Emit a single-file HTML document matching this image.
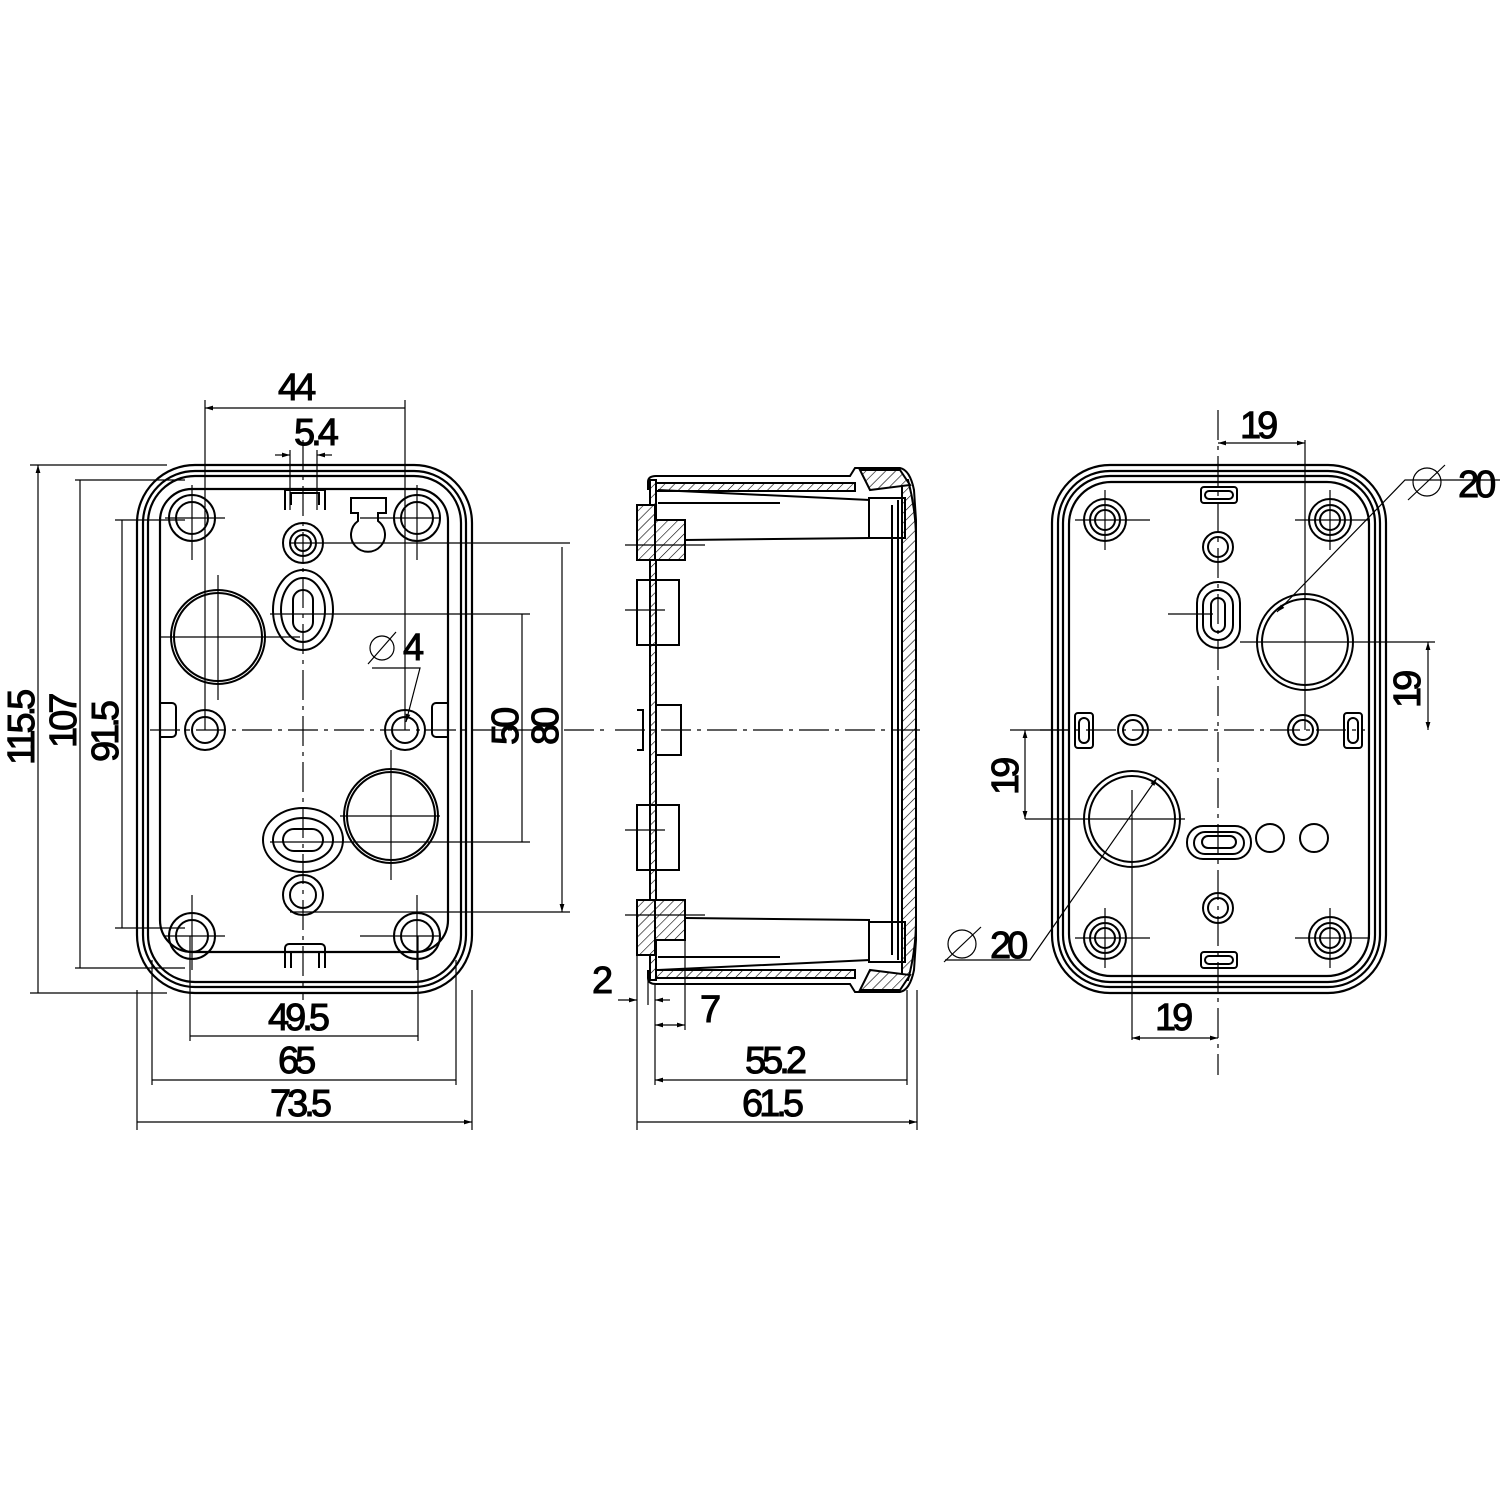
<!DOCTYPE html>
<html><head><style>
html,body{margin:0;padding:0;background:#fff}
svg{display:block}
text{font-family:"Liberation Sans",sans-serif;font-size:38px;fill:#000;letter-spacing:-4px}
</style></head><body>
<svg width="1500" height="1500" viewBox="0 0 1500 1500" xmlns="http://www.w3.org/2000/svg">
<defs>
<marker id="a" viewBox="0 0 10 10" refX="10" refY="5" markerWidth="14" markerHeight="8" orient="auto-start-reverse" markerUnits="userSpaceOnUse"><path d="M0,2 L10,5 L0,8 z" fill="#000"/></marker>
<pattern id="h" width="7" height="7" patternUnits="userSpaceOnUse" patternTransform="rotate(45)"><rect width="7" height="7" fill="#fff"/><line x1="0" y1="0" x2="0" y2="7" stroke="#000" stroke-width="1.2"/></pattern>
<g id="s" fill="none" stroke="#000" stroke-width="2"><circle r="21"/><circle r="15"/><circle r="10"/></g>
</defs>
<g fill="none" stroke="#000">
<!-- ===== LEFT VIEW ===== -->
<g stroke-width="2.2">
<rect x="137" y="465" width="335" height="528" rx="58"/>
<rect x="143" y="471" width="323" height="516" rx="52"/>
<rect x="148" y="476" width="313" height="506" rx="47"/>
<rect x="160" y="489" width="288" height="463" rx="32"/>
</g>
<g stroke-width="2">
<circle cx="192" cy="518" r="23"/><circle cx="192" cy="518" r="16"/>
<circle cx="417" cy="518" r="23"/><circle cx="417" cy="518" r="16"/>
<circle cx="192" cy="936" r="23"/><circle cx="192" cy="936" r="16"/>
<circle cx="417" cy="936" r="23"/><circle cx="417" cy="936" r="16"/>
<circle cx="303" cy="543" r="20"/><circle cx="303" cy="543" r="13"/><circle cx="303" cy="543" r="8"/>
<circle cx="303" cy="895" r="20"/><circle cx="303" cy="895" r="13"/>
<circle cx="205" cy="730" r="20"/><circle cx="205" cy="730" r="13"/>
<circle cx="405" cy="730" r="20"/><circle cx="405" cy="730" r="13"/>
<circle cx="218" cy="637" r="47"/><circle cx="218" cy="637" r="44"/>
<circle cx="391" cy="816" r="47"/><circle cx="391" cy="816" r="44"/>
<ellipse cx="303" cy="610" rx="30" ry="40"/><ellipse cx="303" cy="610" rx="22" ry="32"/><rect x="293" y="590" width="20" height="42" rx="10"/>
<ellipse cx="303" cy="840" rx="40" ry="32"/><ellipse cx="303" cy="840" rx="30" ry="22"/><rect x="283" y="829" width="40" height="22" rx="11"/>
<path d="M160 703 h12 a4 4 0 0 1 4 4 v26 a4 4 0 0 1 -4 4 h-12"/>
<path d="M448 703 h-12 a4 4 0 0 0 -4 4 v26 a4 4 0 0 0 4 4 h12"/>
<path d="M285 510 v-20 h40 v20 M291 505 v-12 h28 v12"/>
<path d="M285 968 v-20 a4 4 0 0 1 4 -4 h32 a4 4 0 0 1 4 4 v20 M291 968 v-16 h28 v16"/>
<path d="M351 498 h35 v15 h-8 v8 a17 17 0 1 1 -20 0 v-8 h-7 z"/>
</g>
<g stroke-width="1.2">
<path d="M150 730 h460" stroke-dasharray="30 6 4 6"/>
<path d="M303 440 v560" stroke-dasharray="30 6 4 6"/>
<path d="M165 518 h60 M360 518 h80 M192 485 v75 M417 485 v75"/>
<path d="M165 936 h60 M360 936 h80 M192 895 v75 M417 895 v75"/>
<path d="M160 637 h140 M218 575 v125 M340 816 h100 M391 750 v130"/>
<path d="M290 543 h280 M290 912 h280 M270 614 h260 M270 842 h260"/>
<path d="M205 400 v330 M405 400 v330 M290 450 v60 M317 450 v60"/>
<path d="M30 465 h137 M75 480 h110 M115 520 h70 M115 928 h70 M75 968 h110 M30 993 h137"/>
<path d="M190 936 v105 M418 936 v105 M152 960 v125 M456 960 v125 M137 990 v140 M472 990 v140"/>
<path d="M38 465 v528 M80 480 v488 M122 520 v408 M522 614 v228 M562 547 v365" marker-start="url(#a)" marker-end="url(#a)"/>
<path d="M205 408 h200 M190 1036 h228 M152 1080 h304 M137 1122 h335" marker-start="url(#a)" marker-end="url(#a)"/>
<path d="M275 455 h15" marker-end="url(#a)"/><path d="M332 455 h-15" marker-end="url(#a)"/>
<path d="M372 668 h48 L406 722" marker-end="url(#a)"/>
<circle cx="382" cy="648" r="12"/><path d="M368 664 L396 632"/>
</g>
<text x="278" y="400">44</text>
<text x="294" y="445">5.4</text>
<text x="403" y="660">4</text>
<text x="268" y="1030">49.5</text>
<text x="278" y="1073">65</text>
<text x="270" y="1116">73.5</text>
<text transform="translate(34 765) rotate(-90)">115.5</text>
<text transform="translate(76 748) rotate(-90)">107</text>
<text transform="translate(118 762) rotate(-90)">91.5</text>
<text transform="translate(518 745) rotate(-90)">50</text>
<text transform="translate(558 745) rotate(-90)">80</text>

<!-- ===== MIDDLE VIEW ===== -->
<g stroke-width="2">
<path d="M648 490 L648 482 Q648 476 656 476 L850 476 L855 468 L900 468 Q910 470 914 490 L916 520 L916 940 L914 970 Q910 990 900 992 L855 992 L850 984 L656 984 Q648 984 648 978 L648 970" />
<path d="M650 483 h205 v8 h-205 z" fill="url(#h)"/>
<path d="M650 970 h205 v8 h-205 z" fill="url(#h)"/>
<path d="M650 480 h6 v500 h-6 z" fill="url(#h)"/>
<path d="M908 480 q8 30 8 60 v380 q0 30 -8 60 h-6 v-500 z" fill="url(#h)"/>
<path d="M898 500 v460 M892 505 v450"/>
<path d="M860 470 l40 0 l10 15 l-40 5 z" fill="url(#h)"/>
<path d="M860 990 l40 0 l10 -15 l-40 -5 z" fill="url(#h)"/>
<path d="M658 490 L870 500 M658 503 L780 503 M685 540 L870 538 M685 918 L870 920 M658 957 L780 957 M658 970 L870 960"/>
<path d="M869 498 h36 v40 h-36 z M869 922 h36 v40 h-36 z"/>
<path d="M637 505 h18 v55 h-18 z" fill="url(#h)"/><path d="M655 520 h30 v40 h-30 z" fill="url(#h)"/>
<path d="M637 900 h18 v55 h-18 z" fill="url(#h)"/><path d="M655 900 h30 v40 h-30 z" fill="url(#h)"/>
<path d="M637 580 h42 v65 h-42 z M637 805 h42 v65 h-42 z"/>
<path d="M656 705 h25 v50 h-25 z M637 710 h6 v40 h-6"/>
</g>
<g stroke-width="1.2">
<path d="M615 730 h305" stroke-dasharray="30 6 4 6"/>
<path d="M625 545 h80 M625 610 h40 M625 830 h40 M625 915 h80"/>
<path d="M637 940 v190 M648 980 v25 M655 985 v100 M685 940 v90 M907 990 v95 M917 990 v140"/>
<path d="M618 1000 h19" marker-end="url(#a)"/><path d="M670 1000 h-15" marker-end="url(#a)"/>
<path d="M655 1025 h30" marker-start="url(#a)" marker-end="url(#a)"/>
<path d="M655 1080 h252 M637 1122 h280" marker-start="url(#a)" marker-end="url(#a)"/>
</g>
<text x="592" y="993">2</text>
<text x="700" y="1022">7</text>
<text x="745" y="1073">55.2</text>
<text x="742" y="1116">61.5</text>

<!-- ===== RIGHT VIEW ===== -->
<g stroke-width="2.2">
<rect x="1052" y="465" width="334" height="528" rx="58"/>
<rect x="1058" y="471" width="322" height="516" rx="52"/>
<rect x="1063" y="476" width="312" height="506" rx="47"/>
<rect x="1069" y="482" width="300" height="494" rx="42"/>
</g>
<g stroke-width="2">
<use href="#s" x="1105" y="520"/><use href="#s" x="1330" y="520"/><use href="#s" x="1105" y="938"/><use href="#s" x="1330" y="938"/>
<circle cx="1218" cy="547" r="15"/><circle cx="1218" cy="547" r="10"/>
<circle cx="1218" cy="908" r="15"/><circle cx="1218" cy="908" r="10"/>
<circle cx="1133" cy="730" r="15"/><circle cx="1133" cy="730" r="10"/>
<circle cx="1303" cy="730" r="15"/><circle cx="1303" cy="730" r="10"/>
<circle cx="1305" cy="642" r="48"/><circle cx="1305" cy="642" r="43"/>
<circle cx="1132" cy="819" r="48"/><circle cx="1132" cy="819" r="43"/>
<rect x="1197" y="582" width="43" height="66" rx="21"/><rect x="1203" y="590" width="30" height="50" rx="15"/><rect x="1211" y="598" width="14" height="34" rx="7"/>
<rect x="1187" y="826" width="64" height="33" rx="16"/><rect x="1194" y="832" width="50" height="22" rx="11"/><rect x="1202" y="836" width="34" height="12" rx="6"/>
<circle cx="1270" cy="838" r="14"/><circle cx="1314" cy="838" r="14"/>
<rect x="1201" y="487" width="36" height="16" rx="3"/><rect x="1205" y="491" width="28" height="8" rx="4"/>
<rect x="1201" y="952" width="36" height="16" rx="3"/><rect x="1205" y="956" width="28" height="8" rx="4"/>
<rect x="1075" y="713" width="18" height="35" rx="3"/><rect x="1079" y="718" width="10" height="25" rx="5"/>
<rect x="1344" y="713" width="18" height="35" rx="3"/><rect x="1348" y="718" width="10" height="25" rx="5"/>
</g>
<g stroke-width="1.2">
<path d="M1218 410 v665" stroke-dasharray="30 6 4 6"/>
<path d="M1040 730 h325" stroke-dasharray="30 6 4 6"/>
<path d="M1305 440 v290 M1240 642 h195 M1025 819 h160 M1132 790 v250 M1010 730 h60"/>
<path d="M1075 520 h75 M1105 490 v60 M1295 520 h75 M1330 490 v60 M1075 938 h75 M1105 908 v60 M1295 938 h75 M1330 908 v60"/>
<path d="M1168 614 h45"/>
<path d="M1218 443 h87" marker-start="url(#a)" marker-end="url(#a)"/>
<path d="M1132 1038 h86" marker-start="url(#a)" marker-end="url(#a)"/>
<path d="M1428 642 v88" marker-start="url(#a)" marker-end="url(#a)"/>
<path d="M1025 730 v89" marker-start="url(#a)" marker-end="url(#a)"/>
<path d="M1500 480 h-95 L1277 612" marker-end="url(#a)"/>
<path d="M945 960 h85 L1157 778" marker-end="url(#a)"/>
<circle cx="1427" cy="482" r="14"/><path d="M1408 500 L1445 465"/>
<circle cx="962" cy="944" r="14"/><path d="M944 962 L981 927"/>
</g>
<text x="1240" y="438">19</text>
<text x="1155" y="1030">19</text>
<text x="1458" y="497">20</text>
<text x="990" y="958">20</text>
<text transform="translate(1420 708) rotate(-90)">19</text>
<text transform="translate(1018 795) rotate(-90)">19</text>
</g>
</svg>
</body></html>
